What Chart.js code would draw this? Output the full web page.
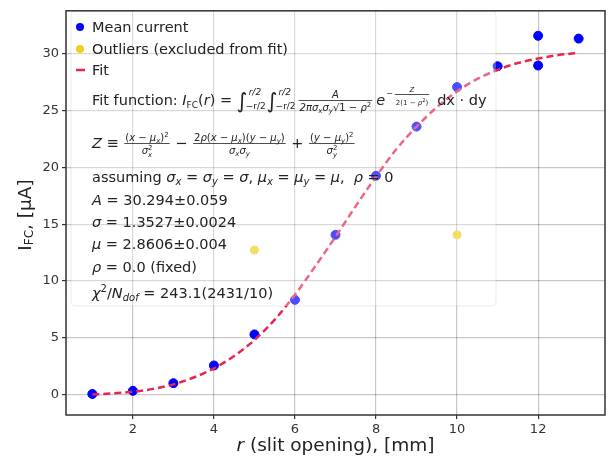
<!DOCTYPE html>
<html>
<head>
<meta charset="utf-8">
<script src="https://cdn.jsdelivr.net/npm/chart.js@4"></script>
<style>
  body { margin: 0; background: #fff; }
  canvas { display: block; }
</style>
</head>
<body>
<canvas id="fitChart" width="611" height="458"></canvas>
<script>
// measured points (slit opening in mm, current in uA)
const meanX = [1, 2, 3, 4, 5, 6, 7, 8, 9, 10, 11, 12, 12, 13];
const meanY = [0.05, 0.33, 1.0, 2.56, 5.3, 8.34, 14.07, 19.27, 23.6, 27.08, 28.92, 31.6, 28.98, 31.35];

const outlierX = [5, 10];
const outlierY = [12.73, 14.07];

// fit curve
const fitX = [1, 1.5, 2, 2.5, 3, 3.5, 4, 4.5, 5, 5.5, 6, 6.5, 7, 7.5, 8, 8.5, 9, 9.5, 10, 10.5, 11, 11.5, 12, 12.5, 13];
const fitY = [0.0, 0.1, 0.25, 0.5, 0.9, 1.5, 2.3, 3.4, 4.8, 6.6, 8.8, 11.3, 13.9, 16.6, 19.2, 21.6, 23.6, 25.3, 26.7, 27.8, 28.6, 29.2, 29.6, 29.9, 30.1];

const xTicks = [2, 4, 6, 8, 10, 12];
const yTicks = [0, 5, 10, 15, 20, 25, 30];

const FAMILY = '"DejaVu Sans"';
const gridColor = 'rgba(0,0,0,0.22)';
const textColor = '#222';
const LF = 14.5; // legend font size

function toPoints(xs, ys) {
    return xs.map((x, i) => ({ x: x, y: ys[i] }));
}

// --- small helpers to write math-ish text on the canvas ---
function setFont(ctx, size, italic) {
    ctx.font = (italic ? 'italic ' : '') + size + 'px ' + FAMILY;
}

function runWidth(ctx, list) {
    let w = 0;
    for (const r of list) {
        setFont(ctx, r[1], r[2]);
        if (!r[4]) w += ctx.measureText(r[0]).width;
    }
    return w;
}

function runs(ctx, x, y, list) {
    for (const r of list) {
        setFont(ctx, r[1], r[2]);
        ctx.fillText(r[0], x, y + (r[3] || 0));
        if (!r[4]) x += ctx.measureText(r[0]).width;
    }
    return x;
}

function frac(ctx, x, y, num, den, gap) {
    gap = gap || 1;
    const wn = runWidth(ctx, num), wd = runWidth(ctx, den);
    const w = Math.max(wn, wd) + 2;
    runs(ctx, x + gap + (w - wn) / 2, y - 7, num);
    runs(ctx, x + gap + (w - wd) / 2, y + 6, den);
    ctx.beginPath();
    ctx.moveTo(x + gap, y - 4.5);
    ctx.lineTo(x + gap + w, y - 4.5);
    ctx.lineWidth = 0.8;
    ctx.strokeStyle = textColor;
    ctx.stroke();
    return x + w + gap * 2;
}

function integ(ctx, x, y) {
    setFont(ctx, 21, false);
    ctx.fillText('\u222B', x, y + 3);
    const wi = ctx.measureText('\u222B').width;
    setFont(ctx, 9, true);
    ctx.fillText('r/2', x + wi + 1, y - 10);
    setFont(ctx, 9, false);
    const lower = '\u2212r/2';
    ctx.fillText(lower, x + wi - 2, y + 4);
    return x + wi - 2 + ctx.measureText(lower).width + 1;
}

const legendPlugin = {
    id: 'fitLegend',
    afterDatasetsDraw(chart) {
        const ctx = chart.ctx;
        ctx.save();
        // legend box
        ctx.beginPath();
        ctx.roundRect(71, 11, 425, 295, 4);
        ctx.fillStyle = 'rgba(255,255,255,0.3)';
        ctx.fill();
        ctx.strokeStyle = 'rgba(0,0,0,0.08)';
        ctx.lineWidth = 1;
        ctx.stroke();

        // handles
        ctx.fillStyle = '#0000ff';
        ctx.beginPath(); ctx.arc(80, 27, 4, 0, Math.PI * 2); ctx.fill();
        ctx.fillStyle = '#f2cf1d';
        ctx.beginPath(); ctx.arc(80, 49, 4, 0, Math.PI * 2); ctx.fill();
        ctx.strokeStyle = '#e5264f';
        ctx.lineWidth = 2.5;
        ctx.beginPath(); ctx.moveTo(76, 70); ctx.lineTo(85, 70); ctx.stroke();

        ctx.fillStyle = textColor;
        ctx.textBaseline = 'alphabetic';
        ctx.textAlign = 'left';
        const L = 92;
        runs(ctx, L, 32, [['Mean current', LF]]);
        runs(ctx, L, 54, [['Outliers (excluded from fit)', LF]]);
        runs(ctx, L, 75, [['Fit', LF]]);

        // fit function line
        let y = 105;
        let x = runs(ctx, L, y, [['Fit function: ', LF], ['I', LF, true], ['FC', 9, false, 3], ['(', LF], ['r', LF, true], [') = ', LF]]);
        x = integ(ctx, x, y);
        x = integ(ctx, x, y);
        x = frac(ctx, x, y, [['A', 10, true]],
            [['2\u03C0', 10, true], ['\u03C3', 10, true], ['x', 7, true, 2], ['\u03C3', 10, true], ['y', 7, true, 2], ['\u221A', 10], ['1 \u2212 ', 10], ['\u03C1', 10, true], ['2', 7, false, -4]], 2);
        x = runs(ctx, x + 2, y, [['e', LF, true]]);
        x = runs(ctx, x + 1, y - 9, [['\u2212', 8]]);
        ctx.save();
        ctx.translate(0, -9);
        x = frac(ctx, x, y + 3, [['Z', 7, true]], [['2(1 \u2212 ', 7], ['\u03C1', 7, true], ['2', 5, false, -3], [')', 7]], 2);
        ctx.restore();
        runs(ctx, x + 6, y, [['dx \u00B7 dy', LF]]);

        // Z definition
        y = 148;
        x = runs(ctx, L, y, [['Z', LF, true], [' \u2261 ', LF]]);
        x = frac(ctx, x, y,
            [['(', 10], ['x', 10, true], [' \u2212 ', 10], ['\u03BC', 10, true], ['x', 7, true, 2], [')', 10], ['2', 7, false, -4]],
            [['\u03C3', 10, true], ['2', 7, false, -4, true], ['x', 7, true, 3]]);
        x = runs(ctx, x, y, [[' \u2212 ', LF]]);
        x = frac(ctx, x, y,
            [['2', 10], ['\u03C1', 10, true], ['(', 10], ['x', 10, true], [' \u2212 ', 10], ['\u03BC', 10, true], ['x', 7, true, 2], [')(', 10], ['y', 10, true], [' \u2212 ', 10], ['\u03BC', 10, true], ['y', 7, true, 2], [')', 10]],
            [['\u03C3', 10, true], ['x', 7, true, 2], ['\u03C3', 10, true], ['y', 7, true, 2]]);
        x = runs(ctx, x, y, [[' + ', LF]]);
        frac(ctx, x, y,
            [['(', 10], ['y', 10, true], [' \u2212 ', 10], ['\u03BC', 10, true], ['y', 7, true, 2], [')', 10], ['2', 7, false, -4]],
            [['\u03C3', 10, true], ['2', 7, false, -4, true], ['y', 7, true, 3]]);

        runs(ctx, L, 182, [['assuming ', LF], ['\u03C3', LF, true], ['x', 10, true, 3], [' = ', LF], ['\u03C3', LF, true], ['y', 10, true, 3], [' = ', LF], ['\u03C3', LF, true], [', ', LF],
            ['\u03BC', LF, true], ['x', 10, true, 3], [' = ', LF], ['\u03BC', LF, true], ['y', 10, true, 3], [' = ', LF], ['\u03BC', LF, true], [',  ', LF], ['\u03C1', LF, true], [' = 0', LF]]);
        runs(ctx, L, 205, [['A', LF, true], [' = 30.294\u00B10.059', LF]]);
        runs(ctx, L, 227, [['\u03C3', LF, true], [' = 1.3527\u00B10.0024', LF]]);
        runs(ctx, L, 249, [['\u03BC', LF, true], [' = 2.8606\u00B10.004', LF]]);
        runs(ctx, L, 272, [['\u03C1', LF, true], [' = 0.0 (fixed)', LF]]);
        runs(ctx, L, 298, [['\u03C7', LF, true], ['2', 10, false, -6], ['/', LF], ['N', LF, true], ['dof', 10, true, 3], [' = 243.1(2431/10)', LF]]);
        ctx.restore();
    },
    afterDraw(chart) {
        const ctx = chart.ctx;
        const a = chart.chartArea;
        ctx.save();
        ctx.strokeStyle = '#333';
        ctx.lineWidth = 1.5;
        ctx.strokeRect(a.left, a.top, a.right - a.left, a.bottom - a.top);

        ctx.fillStyle = textColor;
        ctx.textBaseline = 'middle';
        // x title
        const xt = [['r', 18.5, true], [' (slit opening), [mm]', 18.5]];
        const wx = runWidth(ctx, xt);
        runs(ctx, (a.left + a.right) / 2 - wx / 2, 446, xt);
        // y title
        ctx.translate(26, 215);
        ctx.rotate(-Math.PI / 2);
        const yt = [['I', 18.5], ['FC', 12, false, 4], [', [\u03BCA]', 18.5]];
        const wy = runWidth(ctx, yt);
        runs(ctx, -wy / 2, 0, yt);
        ctx.restore();
    }
};

const ctx = document.getElementById('fitChart').getContext('2d');
const chart = new Chart(ctx, {
    type: 'scatter',
    data: {
        datasets: [
            {
                type: 'line',
                label: 'Fit',
                data: toPoints(fitX, fitY),
                borderColor: '#e5264f',
                borderWidth: 2.5,
                borderDash: [7, 4],
                pointRadius: 0,
                fill: false,
                cubicInterpolationMode: 'monotone',
                order: 0
            },
            {
                label: 'Mean current',
                data: toPoints(meanX, meanY),
                backgroundColor: '#0000ff',
                borderColor: '#0000ff',
                pointRadius: 4.5,
                order: 1
            },
            {
                label: 'Outliers (excluded from fit)',
                data: toPoints(outlierX, outlierY),
                backgroundColor: '#f2cf1d',
                borderColor: '#f2cf1d',
                pointRadius: 4,
                order: 2
            }
        ]
    },
    options: {
        responsive: false,
        animation: false,
        layout: { padding: { top: 6, right: 6, left: 0, bottom: 0 } },
        plugins: {
            legend: { display: false },
            tooltip: { enabled: false }
        },
        scales: {
            x: {
                type: 'linear',
                min: 0.35,
                max: 13.65,
                afterBuildTicks: s => { s.ticks = xTicks.map(v => ({ value: v })); },
                afterFit: s => { s.height = 43; },
                grid: { color: gridColor, lineWidth: 1.2, tickColor: '#333', tickLength: 4 },
                border: { display: false },
                ticks: { font: { family: 'DejaVu Sans', size: 13 }, color: '#333', padding: 3, maxRotation: 0 }
            },
            y: {
                min: -1.8,
                max: 33.8,
                afterBuildTicks: s => { s.ticks = yTicks.map(v => ({ value: v })); },
                afterFit: s => { s.width = 66; },
                grid: { color: gridColor, lineWidth: 1.2, tickColor: '#333', tickLength: 4 },
                border: { display: false },
                ticks: { font: { family: 'DejaVu Sans', size: 13 }, color: '#333', padding: 3 }
            }
        }
    },
    plugins: [legendPlugin]
});
</script>
</body>
</html>
